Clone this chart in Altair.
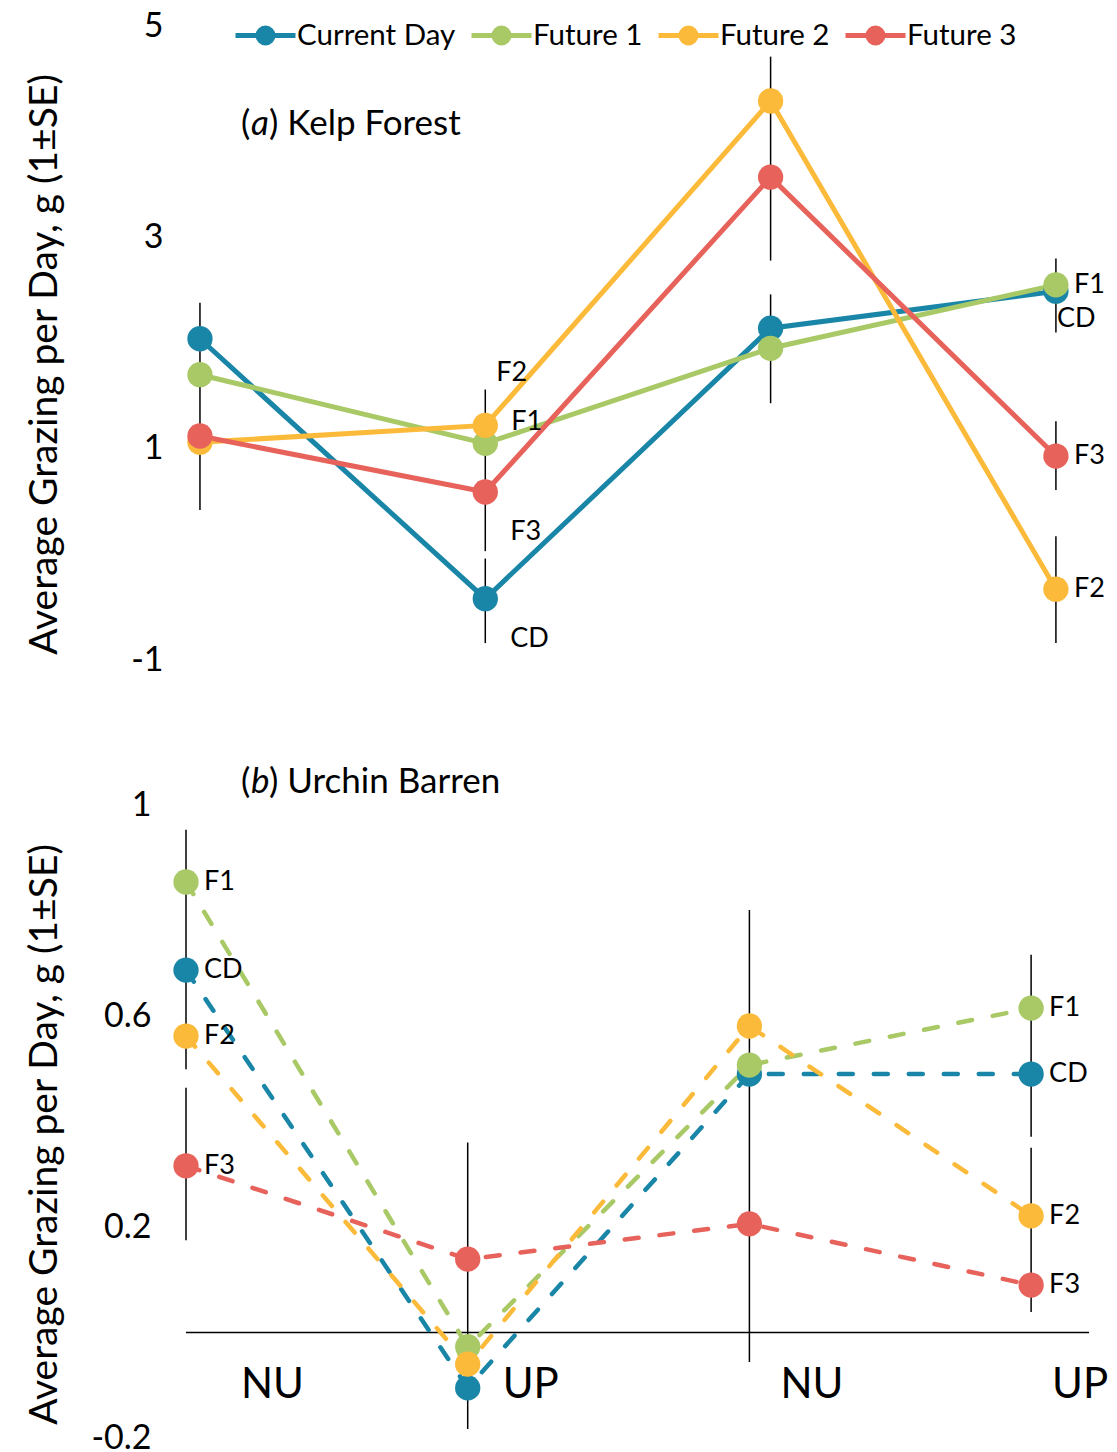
import altair as alt
import pandas as pd

FONT = "Lato"

series = ["Current Day", "Future 1", "Future 2", "Future 3"]
series_abbr = ["CD", "F1", "F2", "F3"]
series_colors = ["#1A86A7", "#A9C967", "#FCBA3A", "#E7625A"]
categories = ["NU", "UP", "NU", "UP"]
y_title = "Average Grazing per Day, g (1±SE)"

# (a) Kelp Forest
kelp_cd = [2.04, -0.42, 2.14, 2.49]
kelp_f1 = [1.70, 1.05, 1.95, 2.55]
kelp_f2 = [1.06, 1.22, 4.29, -0.33]
kelp_f3 = [1.12, 0.59, 3.57, 0.93]
kelp_err_pos = [0, 1, 1, 2, 2, 3, 3, 3]
kelp_err_low = [0.42, 0.03, -0.84, 2.78, 1.43, 2.10, 0.61, -0.84]
kelp_err_high = [2.38, 1.56, -0.04, 4.71, 2.46, 2.80, 1.26, 0.17]
kelp_ticks = [-1, 1, 3, 5]
kelp_label_pos = [1, 1, 1, 1, 3, 3, 3, 3]
kelp_label_series = ["Future 2", "Future 1", "Future 3", "Current Day",
                     "Future 1", "Current Day", "Future 3", "Future 2"]
kelp_label_place = ["above", "upright", "below", "below", "right", "under", "right", "right"]

# (b) Urchin Barren
barren_cd = [0.687, -0.105, 0.490, 0.490]
barren_f1 = [0.854, -0.027, 0.507, 0.615]
barren_f2 = [0.562, -0.060, 0.581, 0.221]
barren_f3 = [0.316, 0.139, 0.206, 0.090]
barren_err_pos = [0, 0, 1, 2, 3, 3]
barren_err_low = [0.499, 0.175, -0.183, -0.056, 0.371, 0.039]
barren_err_high = [0.953, 0.464, 0.360, 0.801, 0.716, 0.350]
barren_ticks = [-0.2, 0.2, 0.6, 1]
barren_label_pos = [0, 0, 0, 0, 3, 3, 3, 3]
barren_label_series = ["Future 1", "Current Day", "Future 2", "Future 3",
                       "Future 1", "Current Day", "Future 2", "Future 3"]
barren_label_place = ["right"] * 8

PLACE = {"right": (18, 0), "above": (11, -52), "upright": (26, -21),
         "below": (25, 40), "under": (1, 28)}
CAT_DX = [55, 35, 31, 21]

PLOT_W = 925
cs = alt.Scale(domain=series, range=series_colors)
legend_shape = "M-2,0L2,0M-0.5,0A0.5,0.5,0,1,1,0.5,0A0.5,0.5,0,1,1,-0.5,0Z"


def make_legend(show):
    if not show:
        return None
    return alt.Legend(title=None, orient="none", legendX=74, legendY=-8,
                      direction="horizontal", symbolType=legend_shape,
                      symbolSize=900, symbolStrokeWidth=5, symbolOpacity=1,
                      labelFont=FONT, labelFontSize=29.5, labelColor="black",
                      labelOffset=14, columnPadding=5, labelLimit=300)


def build_panel(vals, err_pos, err_low, err_high, ticks, ydom, xdom, height, dashed,
                lab_pos, lab_series, lab_place, letter, rest, title_px, ytitle_center,
                label_pad, show_legend, show_cats):
    lookup = dict(zip(series, vals))
    abbr = dict(zip(series, series_abbr))
    df = pd.DataFrame([{"series": s, "pos": i, "value": v}
                       for s, vs in zip(series, vals) for i, v in enumerate(vs)])
    err = pd.DataFrame({"pos": err_pos, "low": err_low, "high": err_high})
    labs = pd.DataFrame({"pos": lab_pos, "series": lab_series, "place": lab_place})
    labs["value"] = [lookup[s][p] for s, p in zip(lab_series, lab_pos)]
    labs["text"] = [abbr[s] for s in lab_series]

    xs = alt.Scale(domain=xdom, nice=False, zero=False)
    ys = alt.Scale(domain=ydom, nice=False, zero=False)
    yaxis = alt.Axis(values=ticks, title=y_title, grid=False, domain=False, ticks=False,
                     labelFont=FONT, labelFontSize=34, labelColor="black", labelPadding=label_pad,
                     labelExpr="toString(datum.value)",
                     titleFont=FONT, titleFontSize=39, titleFontWeight="normal",
                     titleColor="black", titleBaseline="middle", titleAlign="center",
                     titleX=-130, titleY=ytitle_center)

    def X(f):
        return alt.X(f"{f}:Q", scale=xs, axis=None)

    def Y(f):
        return alt.Y(f"{f}:Q", scale=ys, axis=yaxis)

    lg = make_legend(show_legend)
    layers = []
    layers.append(alt.Chart(err).mark_rule(color="black", strokeWidth=1.5).encode(
        x=X("pos"), y=Y("low"), y2="high:Q"))
    if show_cats:
        zero = pd.DataFrame({"pos": [0], "zero": [0]})
        layers.append(alt.Chart(zero).mark_rule(color="black", strokeWidth=1.5).encode(
            x=X("pos"), x2=alt.value(915), y=Y("zero")))
    line_kw = dict(strokeWidth=5)
    if dashed:
        line_kw = dict(strokeWidth=4.5, strokeDash=[14, 21], strokeCap="round")
    layers.append(alt.Chart(df).mark_line(**line_kw).encode(
        x=X("pos"), y=Y("value"),
        stroke=alt.Stroke("series:N", scale=cs, legend=lg),
        detail="series:N", order="pos:Q"))
    layers.append(alt.Chart(df).mark_point(filled=True, size=640, opacity=1, shape="circle").encode(
        x=X("pos"), y=Y("value"),
        fill=alt.Fill("series:N", scale=cs, legend=lg)))
    for place, (dx, dy) in PLACE.items():
        sub = labs[labs["place"] == place]
        if len(sub) == 0:
            continue
        layers.append(alt.Chart(sub).mark_text(
            align="left", baseline="middle", dx=dx, dy=dy, font=FONT, fontSize=27,
            color="black").encode(x=X("pos"), y=Y("value"), text="text:N"))
    if show_cats:
        cats = pd.DataFrame({"pos": list(range(len(categories))), "cat": categories,
                             "zero": [0] * len(categories)})
        for i, cdx in enumerate(CAT_DX):
            layers.append(alt.Chart(cats.iloc[[i]]).mark_text(
                align="left", baseline="middle", dx=cdx, dy=52, font=FONT, fontSize=42,
                color="black").encode(x=X("pos"), y=Y("zero"), text="cat:N"))
    dummy = pd.DataFrame({"k": [0]})
    tx, ty = title_px
    tkw = dict(align="left", baseline="middle", font=FONT, fontSize=35, color="black")
    layers.append(alt.Chart(dummy).mark_text(text="(", **tkw).encode(
        x=alt.value(tx), y=alt.value(ty)))
    layers.append(alt.Chart(dummy).mark_text(text=letter, fontStyle="italic", **tkw).encode(
        x=alt.value(tx + 10), y=alt.value(ty)))
    layers.append(alt.Chart(dummy).mark_text(text=rest, **tkw).encode(
        x=alt.value(tx + 28), y=alt.value(ty)))
    return alt.layer(*layers).properties(width=PLOT_W, height=height)


panel_a = build_panel([kelp_cd, kelp_f1, kelp_f2, kelp_f3],
                      kelp_err_pos, kelp_err_low, kelp_err_high, kelp_ticks,
                      [-1, 5], [-0.091, 3.151], 634, False,
                      kelp_label_pos, kelp_label_series, kelp_label_place,
                      "a", ") Kelp Forest", (67, 98), 338, 11, True, False)

panel_b = build_panel([barren_cd, barren_f1, barren_f2, barren_f3],
                      barren_err_pos, barren_err_low, barren_err_high, barren_ticks,
                      [-0.2, 1], [-0.0426, 3.241], 633, True,
                      barren_label_pos, barren_label_series, barren_label_place,
                      "b", ") Urchin Barren", (67, -23), 329, 23, False, True)

chart = alt.vconcat(panel_a, panel_b, spacing=145, bounds="flush").resolve_scale(
    x="independent", y="independent", fill="shared", stroke="shared"
).configure_view(stroke=None).properties(
    padding={"left": 17, "top": 1, "right": 0, "bottom": 0}, background="white")

chart.save("out.html", embed_options={"renderer": "svg", "actions": False})
